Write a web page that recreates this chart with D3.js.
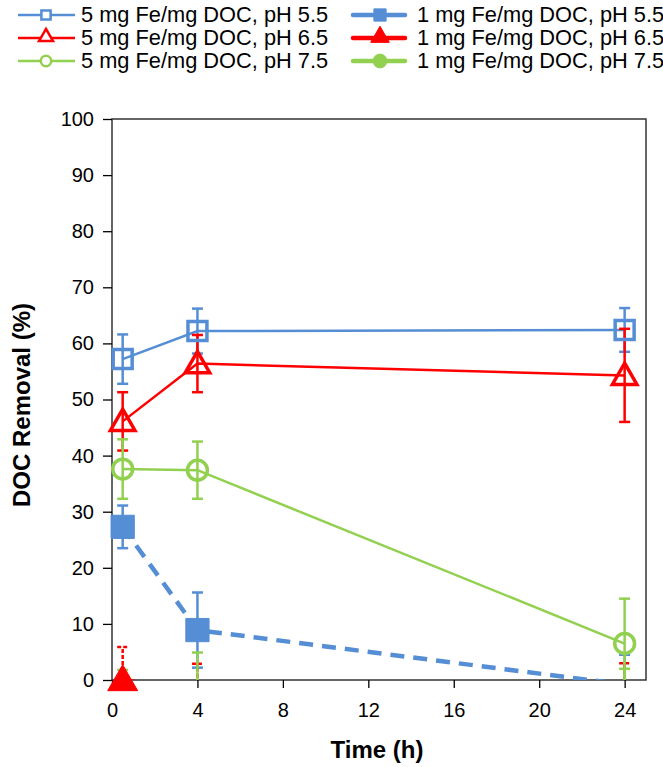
<!DOCTYPE html>
<html lang="en">
<head>
  <meta charset="UTF-8">
  <script src="https://d3js.org/d3.v7.min.js"></script>
  <style>
    body { margin: 0; background: #fff; }
    svg text { font-family: "Liberation Sans", Arial, sans-serif; fill: #000; }
    .axis .domain { display: none; }
    .axis line { stroke: #000; stroke-width: 1.3; }
    .axis text { font-size: 20px; }
  </style>
</head>
<body>
<svg id="chart" width="663" height="767"></svg>
<script>
  // sampling times (h)
  const times = [0.5, 4, 24];
  const xTicks = [0, 4, 8, 12, 16, 20, 24];
  const yTicks = [0, 10, 20, 30, 40, 50, 60, 70, 80, 90, 100];

  // DOC removal (%) and error bar half-widths
  const fe5ph55 = [57.2, 62.2, 62.4];
  const fe5ph55Err = [4.4, 4.0, 3.9];
  const fe5ph65 = [46.1, 56.4, 54.3];
  const fe5ph65Err = [5.2, 5.1, 8.3];
  const fe5ph75 = [37.6, 37.4, 6.5];
  const fe5ph75Err = [5.3, 5.1, 8.0];
  const fe1ph55 = [27.3, 8.9, -0.8];
  const fe1ph55Err = [3.8, 6.7, 5.3];
  const fe1ph65 = [0, -2.1, -2.8];
  const fe1ph65Err = [5.9, 5.0, 5.8];
  const fe1ph75 = [-1.2, -3.0, -2.5];
  const fe1ph75Err = [3.0, 7.9, 4.5];

  const blue = "#558ED5", red = "#FF0000", green = "#92D050";

  const series = [
    { name: "5 mg Fe/mg DOC, pH 5.5", values: fe5ph55, err: fe5ph55Err, color: blue, marker: "square", filled: false, dashed: false },
    { name: "1 mg Fe/mg DOC, pH 5.5", values: fe1ph55, err: fe1ph55Err, color: blue, marker: "square", filled: true, dashed: true },
    { name: "5 mg Fe/mg DOC, pH 6.5", values: fe5ph65, err: fe5ph65Err, color: red, marker: "triangle", filled: false, dashed: false },
    { name: "1 mg Fe/mg DOC, pH 6.5", values: fe1ph65, err: fe1ph65Err, color: red, marker: "triangle", filled: true, dashed: true },
    { name: "5 mg Fe/mg DOC, pH 7.5", values: fe5ph75, err: fe5ph75Err, color: green, marker: "circle", filled: false, dashed: false },
    { name: "1 mg Fe/mg DOC, pH 7.5", values: fe1ph75, err: fe1ph75Err, color: green, marker: "circle", filled: true, dashed: true }
  ];

  const svg = d3.select("#chart");
  const plot = { left: 112, right: 646, top: 119, bottom: 680 };

  const x = d3.scaleLinear().domain([0, 25]).range([plot.left, plot.right]);
  const y = d3.scaleLinear().domain([0, 100]).range([plot.bottom, plot.top]);

  svg.append("clipPath").attr("id", "clip")
    .append("rect")
    .attr("x", plot.left).attr("y", plot.top)
    .attr("width", plot.right - plot.left).attr("height", plot.bottom - plot.top);

  // frame
  svg.append("rect")
    .attr("x", plot.left).attr("y", plot.top)
    .attr("width", plot.right - plot.left).attr("height", plot.bottom - plot.top)
    .attr("fill", "none").attr("stroke", "#333").attr("stroke-width", 1.5);

  // axes
  svg.append("g").attr("class", "axis")
    .attr("transform", `translate(${plot.left},0)`)
    .call(d3.axisLeft(y).tickValues(yTicks).tickSize(9).tickPadding(9));
  svg.append("g").attr("class", "axis")
    .attr("transform", `translate(0,${plot.bottom})`)
    .call(d3.axisBottom(x).tickValues(xTicks).tickSize(8).tickPadding(15));

  // axis titles
  svg.append("text")
    .attr("transform", "translate(30,405) rotate(-90)")
    .attr("text-anchor", "middle")
    .style("font-size", "24px").style("font-weight", "bold")
    .text("DOC Removal (%)");
  svg.append("text")
    .attr("x", 377).attr("y", 758)
    .attr("text-anchor", "middle")
    .style("font-size", "24px").style("font-weight", "bold")
    .text("Time (h)");

  function markerPath(type, size) {
    const sym = type === "square" ? d3.symbolSquare : type === "triangle" ? d3.symbolTriangle : d3.symbolCircle;
    return d3.symbol().type(sym).size(size)();
  }
  const markerArea = { square: 360, triangle: 260, circle: 310 };

  const clipped = svg.append("g").attr("clip-path", "url(#clip)");
  const lineGen = d3.line().x((d, i) => x(times[i])).y(d => y(d));

  series.forEach(s => {
    const g = clipped.append("g");
    // error bars
    s.values.forEach((v, i) => {
      const cx = x(times[i]);
      const lo = y(v - s.err[i]), hi = y(v + s.err[i]);
      const dash = (s.dashed && s.color === red) ? "4,2" : null;
      g.append("line").attr("x1", cx).attr("x2", cx).attr("y1", lo).attr("y2", hi)
        .attr("stroke", s.color).attr("stroke-width", 2.5).attr("stroke-dasharray", dash);
      [lo, hi].forEach(yy => {
        g.append("line").attr("x1", cx - 5.5).attr("x2", cx + 5.5).attr("y1", yy).attr("y2", yy)
          .attr("stroke", s.color).attr("stroke-width", 2.5).attr("stroke-dasharray", dash);
      });
    });
    // connecting line
    g.append("path")
      .attr("d", lineGen(s.values))
      .attr("fill", "none")
      .attr("stroke", s.color)
      .attr("stroke-width", s.dashed ? 4.5 : 2.5)
      .attr("stroke-dasharray", s.dashed ? "14,9" : null);
  });

  // markers (points below the axis minimum are not shown)
  series.forEach(s => {
    svg.append("g").selectAll("path")
      .data(s.values.map((v, i) => ({ t: times[i], v: v })).filter(d => d.v >= 0))
      .join("path")
      .attr("transform", d => `translate(${x(d.t)},${y(d.v) + (s.marker === "triangle" ? 2 : 0)})`)
      .attr("d", markerPath(s.marker, s.filled ? markerArea[s.marker] * 1.5 : markerArea[s.marker]))
      .attr("fill", s.filled ? s.color : "none")
      .attr("stroke", s.color)
      .attr("stroke-width", s.filled ? 1 : 3.5);
  });

  // legend, two columns by three rows
  const legendRows = [15, 38, 61];
  const legendCols = [
    { x1: 18, x2: 75, xm: 46, xt: 81 },
    { x1: 353, x2: 405, xm: 380, xt: 417 }
  ];
  series.forEach((s, k) => {
    const col = legendCols[k % 2];
    const ly = legendRows[Math.floor(k / 2)];
    const lg = svg.append("g");
    if (s.dashed) {
      [[col.x1, col.xm - 6], [col.xm + 6, col.x2]].forEach(seg => {
        lg.append("line").attr("x1", seg[0]).attr("x2", seg[1]).attr("y1", ly).attr("y2", ly)
          .attr("stroke", s.color).attr("stroke-width", 4.5).attr("stroke-linecap", "round");
      });
    } else {
      lg.append("line").attr("x1", col.x1).attr("x2", col.x2).attr("y1", ly).attr("y2", ly)
        .attr("stroke", s.color).attr("stroke-width", 2.5);
    }
    lg.append("path")
      .attr("transform", `translate(${col.xm},${ly + (s.marker === "triangle" ? -1 : 0)})`)
      .attr("d", markerPath(s.marker, s.filled ? 150 : 85))
      .attr("fill", s.filled ? s.color : "#fff")
      .attr("stroke", s.color)
      .attr("stroke-width", s.filled ? 1 : 2.5);
    lg.append("text")
      .attr("x", col.xt).attr("y", ly + 7)
      .style("font-size", "21.8px")
      .text(s.name);
  });
</script>
</body>
</html>
